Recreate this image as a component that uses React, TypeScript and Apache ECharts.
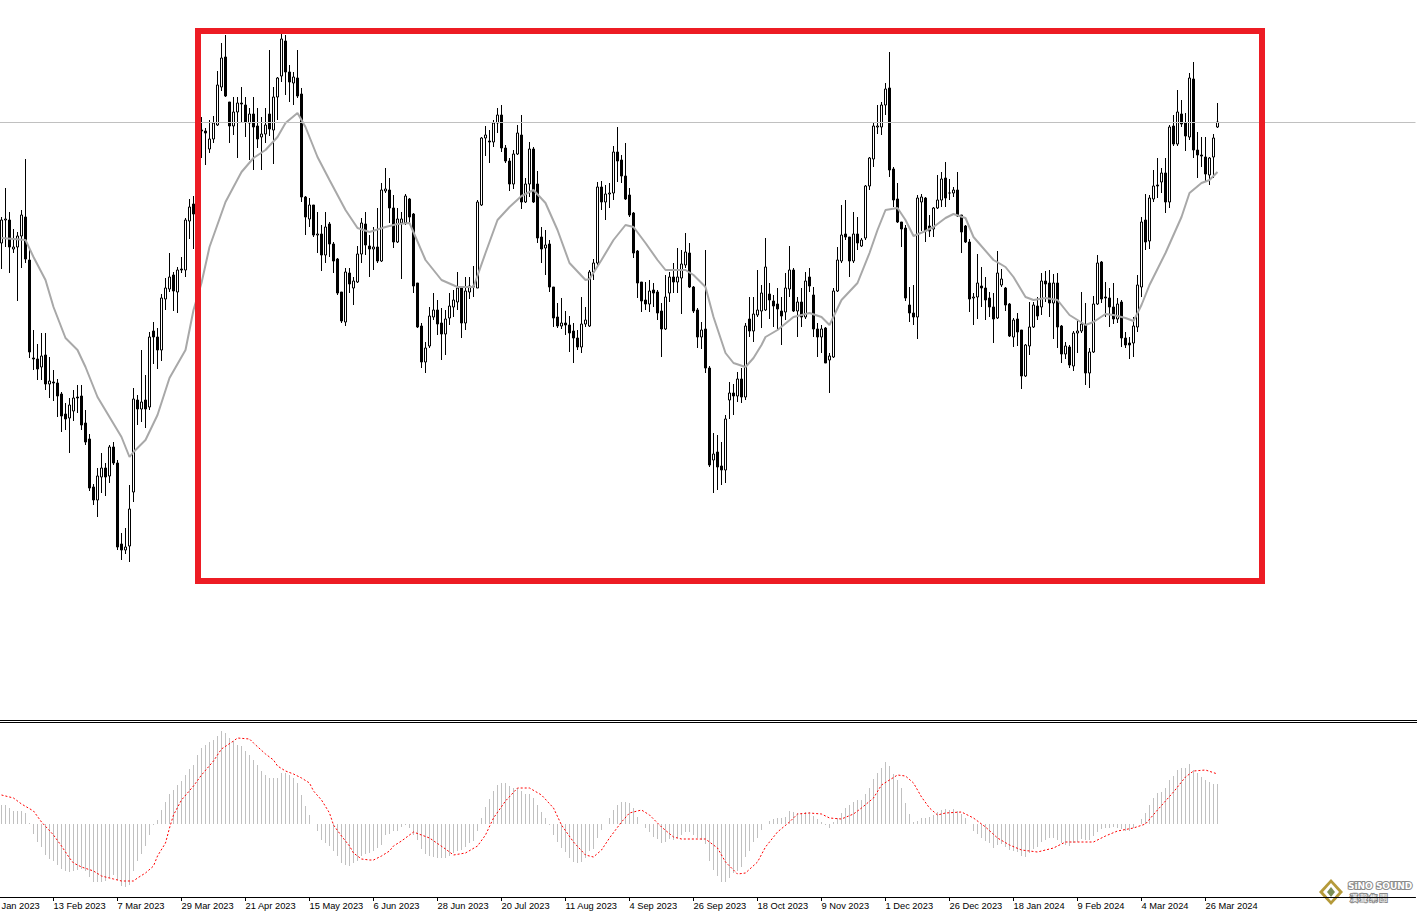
import React, { useEffect, useRef } from "react";
import * as echarts from "echarts";

// ---------- DATA (XAGUSD daily) ----------
const OPEN = [
24.57,24.80,24.80,24.51,24.53,24.64,24.83,24.40,23.42,23.41,23.33,23.45,23.16,23.18,23.17,23.06,22.86,22.82,22.89,23.03,
23.04,22.77,22.61,22.13,22.00,22.23,22.32,22.24,22.53,22.37,21.56,21.50,21.54,22.08,23.00,22.91,23.00,22.93,23.69,23.63,
23.50,24.01,24.11,24.25,24.08,24.31,24.30,24.79,24.96,24.86,25.70,25.69,25.51,25.61,25.75,26.13,26.43,25.98,25.74,25.88,
25.97,25.95,25.77,25.86,25.74,25.63,25.66,25.86,25.70,26.03,26.24,26.59,26.28,26.17,26.22,26.06,25.03,24.81,24.95,24.65,
24.66,24.45,24.76,24.56,24.41,24.08,23.78,24.27,24.12,24.18,24.46,24.76,24.54,24.51,24.53,24.39,25.09,25.10,24.92,24.58,
24.77,24.77,25.01,24.86,24.17,23.74,23.38,23.54,23.83,23.90,23.77,23.66,23.82,23.93,23.98,24.12,23.77,24.08,24.14,24.12,
24.95,25.62,25.59,25.58,25.77,25.85,25.52,25.39,25.16,25.46,25.65,24.98,25.16,25.51,25.16,24.63,24.52,24.56,24.13,23.83,
23.74,23.77,23.75,23.69,23.62,23.53,23.76,23.74,24.28,24.37,25.13,24.98,25.06,25.07,25.48,25.40,25.24,25.05,24.87,24.49,
24.18,24.00,23.96,24.10,24.08,23.89,23.71,24.07,24.23,24.18,24.22,24.35,24.47,24.13,23.90,23.63,23.71,23.32,22.40,22.48,
22.34,22.30,23.00,23.07,23.04,23.21,23.03,23.81,23.69,23.85,23.89,23.90,24.06,23.99,23.96,23.89,23.88,24.11,24.30,23.89,
23.98,23.83,24.23,24.05,23.71,23.63,23.72,23.40,23.43,24.09,24.39,24.66,24.63,24.39,24.66,24.54,24.62,25.14,25.41,25.73,
25.73,25.95,26.12,25.31,25.01,24.78,24.72,23.95,23.87,23.83,24.98,25.02,24.74,24.71,24.92,25.00,25.22,25.07,25.07,25.10,
24.85,24.74,24.58,24.02,24.03,24.14,24.12,24.02,23.93,23.82,24.15,24.12,23.96,23.63,23.81,23.70,23.24,23.54,23.73,23.94,
23.93,24.19,24.17,23.97,24.17,23.74,23.46,23.53,23.34,23.67,23.69,23.75,23.27,23.48,23.96,24.38,24.03,24.02,23.93,23.81,
23.98,23.62,23.57,23.57,23.73,24.13,24.80,24.59,25.01,25.15,25.18,25.27,24.98,25.74,25.56,25.86,25.77,25.63,26.21,25.50,
25.45,25.43,25.25,25.43,25.73];
const HIGH = [
24.83,25.12,24.88,24.71,24.68,24.90,25.41,24.53,23.70,23.56,23.67,23.67,23.43,23.30,23.21,23.08,22.97,23.02,23.10,23.15,
23.15,22.90,22.66,22.16,22.32,22.47,22.37,22.55,22.58,22.40,21.67,21.72,22.15,23.12,23.05,23.50,23.25,23.68,23.78,23.72,
24.06,24.22,24.47,24.28,24.33,24.43,24.82,25.01,25.04,25.75,25.83,25.72,25.80,25.84,26.29,26.57,26.65,25.98,26.03,26.03,
26.13,26.03,25.92,26.03,25.92,25.83,25.92,26.50,26.13,26.23,26.66,26.65,26.35,26.28,26.50,26.12,25.04,25.02,24.95,24.88,
24.75,24.88,24.78,24.58,24.42,24.08,24.32,24.32,24.23,24.54,24.82,24.88,24.65,24.73,24.92,25.17,25.32,25.22,25.05,24.92,
24.88,25.06,25.02,24.87,24.17,23.77,23.58,23.93,24.07,24.00,23.92,23.90,24.07,24.10,24.28,24.13,24.23,24.23,24.34,25.00,
25.63,25.74,25.70,25.80,25.92,25.95,25.55,25.42,25.50,25.75,25.85,25.22,25.58,25.53,25.29,24.73,24.70,24.60,24.13,23.97,
24.02,23.89,23.84,23.77,23.70,24.03,23.93,24.30,24.41,25.18,25.19,25.15,25.17,25.54,25.73,25.45,25.57,25.12,24.88,24.50,
24.18,24.18,24.20,24.17,24.10,23.97,24.25,24.28,24.37,24.52,24.50,24.67,24.57,24.14,23.92,23.78,24.50,23.34,22.67,22.65,
22.58,22.85,23.18,23.16,23.28,23.32,23.77,24.03,24.03,24.30,24.15,24.62,24.17,24.05,24.12,24.03,24.27,24.54,24.32,24.03,
24.12,24.28,24.32,24.13,23.77,23.75,23.73,23.47,24.12,24.53,24.95,25.00,24.63,24.88,24.83,24.62,25.15,25.43,25.77,25.95,
25.98,26.17,26.48,25.33,25.17,24.78,24.75,24.13,24.15,25.05,25.06,25.03,24.85,24.93,25.25,25.28,25.38,25.21,25.13,25.28,
24.85,24.75,24.61,24.07,24.46,24.33,24.23,24.08,24.07,24.49,24.31,24.13,23.97,23.82,23.87,23.70,23.56,23.98,23.98,24.03,
24.27,24.29,24.30,24.26,24.27,23.75,23.58,23.55,23.69,23.79,24.08,23.97,23.52,24.04,24.45,24.39,24.18,24.12,24.17,24.02,
24.00,23.68,23.63,23.83,24.25,24.83,25.06,25.05,25.30,25.42,25.32,25.42,25.75,25.85,26.10,26.00,25.87,26.27,26.38,25.68,
25.63,25.63,25.43,25.66,25.97];
const LOW = [
24.31,24.53,24.27,24.47,23.99,24.32,24.37,23.42,23.30,23.20,23.20,23.10,23.02,22.99,22.83,22.68,22.70,22.47,22.79,22.87,
22.70,22.55,22.09,21.95,21.83,22.07,22.04,22.17,22.35,21.50,21.40,21.46,21.38,21.98,22.75,22.78,22.72,22.90,23.36,23.31,
23.39,23.90,24.08,23.89,23.87,24.27,24.23,24.61,24.51,24.84,25.42,25.35,25.47,25.57,25.74,26.09,26.03,25.57,25.65,25.42,
25.77,25.63,25.40,25.30,25.52,25.30,25.57,25.64,25.36,25.80,26.18,26.05,25.98,25.95,26.02,24.98,24.65,24.73,24.63,24.47,
24.29,24.37,24.43,24.27,24.05,23.77,23.74,24.07,23.95,24.17,24.37,24.45,24.23,24.30,24.37,24.38,25.07,24.77,24.52,24.57,
24.21,24.75,24.77,24.07,23.72,23.32,23.27,23.52,23.80,23.65,23.40,23.45,23.75,23.83,23.90,23.62,23.70,24.01,24.03,24.12,
24.94,25.44,25.37,25.53,25.67,25.48,25.37,25.09,25.11,25.45,24.91,24.97,25.03,24.97,24.57,24.37,24.25,24.08,23.73,23.72,
23.71,23.65,23.48,23.37,23.50,23.47,23.73,23.73,24.20,24.35,24.90,24.80,24.92,25.00,25.18,25.17,25.00,24.83,24.42,24.02,
23.88,23.90,23.88,23.93,23.80,23.43,23.70,23.98,24.07,24.07,23.86,24.32,24.12,23.87,23.52,23.51,23.27,22.33,22.07,22.10,
22.15,22.17,22.81,22.85,22.98,22.97,23.00,23.63,23.58,23.83,23.72,23.89,23.81,23.73,23.71,23.55,23.80,24.03,23.88,23.63,
23.73,23.81,24.08,23.63,23.43,23.47,23.37,23.07,23.42,24.08,24.37,24.60,24.23,24.37,24.50,24.53,24.60,25.10,25.33,25.66,
25.65,25.85,25.23,24.93,24.77,24.53,23.99,23.78,23.75,23.61,24.69,24.58,24.63,24.63,24.91,24.93,24.93,25.00,25.03,24.83,
24.47,24.57,23.88,23.75,23.81,23.93,23.80,23.83,23.57,23.81,24.13,23.89,23.63,23.53,23.54,23.11,23.23,23.45,23.72,23.80,
23.85,23.98,23.83,23.61,23.52,23.37,23.41,23.32,23.29,23.47,23.67,23.15,23.12,23.47,23.95,23.97,23.83,23.73,23.76,23.77,
23.53,23.52,23.41,23.43,23.68,24.03,24.50,24.51,24.98,25.02,25.07,24.87,24.92,25.54,25.54,25.73,25.49,25.60,25.42,25.22,
25.33,25.18,25.15,25.22,25.72];
const CLOSE = [
24.80,24.81,24.53,24.53,24.64,24.85,24.41,23.48,23.41,23.31,23.44,23.16,23.19,23.17,23.04,22.84,22.81,22.95,23.02,23.02,
22.75,22.58,22.12,22.00,22.24,22.32,22.23,22.53,22.37,21.53,21.50,21.53,21.91,23.01,22.91,22.98,22.91,23.63,23.63,23.50,
24.02,24.12,24.23,24.09,24.30,24.30,24.80,24.93,24.86,25.70,25.69,25.67,25.61,25.77,26.15,26.42,26.04,25.74,25.88,25.97,
25.96,25.78,25.86,25.73,25.61,25.66,25.75,25.71,26.03,26.22,26.61,26.28,26.18,26.23,26.04,25.03,24.83,24.95,24.65,24.66,
24.45,24.73,24.56,24.39,24.07,23.79,24.28,24.16,24.19,24.46,24.77,24.55,24.51,24.53,24.39,25.10,25.11,24.92,24.58,24.81,
24.81,25.04,24.83,24.14,23.73,23.38,23.52,23.84,23.90,23.76,23.66,23.81,23.94,24.00,24.12,23.77,24.09,24.14,24.13,24.98,
25.62,25.65,25.58,25.77,25.85,25.52,25.39,25.16,25.46,25.67,24.98,25.16,25.51,24.98,24.62,24.51,24.55,24.13,23.82,23.74,
23.77,23.75,23.67,23.62,23.53,23.76,23.80,24.28,24.37,25.13,24.98,25.06,25.07,25.48,25.39,25.24,25.01,24.85,24.47,24.17,
23.99,23.96,24.09,24.07,23.87,23.71,24.03,24.23,24.18,24.23,24.36,24.48,24.13,23.89,23.63,23.70,23.32,22.35,22.46,22.33,
22.30,22.81,23.07,23.04,23.21,23.03,23.74,23.69,23.86,23.90,24.07,24.33,24.00,23.94,23.91,23.84,24.12,24.30,23.89,23.98,
23.83,24.19,24.14,23.71,23.63,23.71,23.37,23.44,24.09,24.40,24.65,24.63,24.39,24.66,24.57,24.60,25.14,25.42,25.74,25.74,
25.95,26.11,25.30,25.00,24.78,24.71,24.02,23.87,23.83,25.02,25.03,24.69,24.69,24.92,25.00,25.21,25.02,25.07,25.10,24.84,
24.68,24.58,24.01,24.03,24.17,24.12,24.00,23.93,23.81,24.27,24.21,23.95,23.64,23.80,23.68,23.24,23.55,23.73,23.95,23.84,
24.19,24.16,23.97,24.17,23.73,23.46,23.54,23.35,23.67,23.69,23.76,23.27,23.48,23.96,24.37,24.01,24.02,23.93,23.81,23.96,
23.62,23.55,23.55,23.74,24.15,24.78,24.58,25.02,25.14,25.14,25.27,24.98,25.73,25.56,25.88,25.76,25.64,26.22,25.50,25.45,
25.44,25.26,25.42,25.62,25.78];

// moving average, sampled along the grey curve: [bar, value]
const MA_POINTS = [
[0,24.62],[6,24.60],[8,24.43],[11,24.20],[13,23.93],[16,23.62],[19,23.50],[21,23.33],[24,23.03],[27,22.83],
[30,22.63],[32,22.43],[33,22.48],[36,22.60],[39,22.85],[42,23.22],[46,23.50],[48,23.90],[50,24.17],[52,24.53],
[56,24.98],[60,25.28],[63,25.42],[66,25.50],[69,25.63],[71,25.77],[74,25.87],[76,25.73],[79,25.43],[82,25.20],
[86,24.90],[89,24.72],[92,24.68],[96,24.73],[99,24.76],[102,24.77],[106,24.40],[110,24.20],[114,24.13],[118,24.13],
[121,24.47],[124,24.80],[127,24.93],[130,25.04],[133,25.10],[136,24.97],[139,24.70],[142,24.37],[146,24.20],[147,24.21],
[150,24.40],[153,24.60],[156,24.75],[158,24.73],[161,24.57],[164,24.40],[166,24.30],[171,24.30],[173,24.25],[176,24.13],
[178,23.83],[181,23.47],[183,23.37],[186,23.33],[188,23.42],[190,23.55],[191,23.63],[194,23.70],[198,23.83],[202,23.87],
[205,23.83],[207,23.75],[210,24.00],[214,24.17],[217,24.47],[219,24.70],[221,24.90],[224,24.92],[226,24.80],[228,24.64],
[231,24.69],[233,24.73],[236,24.82],[238,24.86],[241,24.82],[243,24.63],[248,24.40],[251,24.33],[253,24.23],[256,24.03],
[258,24.00],[261,24.02],[264,24.00],[267,23.85],[271,23.75],[273,23.78],[276,23.86],[278,23.85],[281,23.82],[283,23.79],
[285,23.95],[287,24.15],[291,24.47],[295,24.83],[297,25.07],[300,25.17],[302,25.20],[304,25.28]];

const MACD_HIST = [
0.19,0.19,0.16,0.13,0.13,0.13,0.11,0.01,-0.10,-0.18,-0.23,-0.31,-0.35,-0.37,-0.41,-0.45,-0.47,-0.48,-0.47,-0.46,
-0.45,-0.47,-0.53,-0.58,-0.58,-0.58,-0.57,-0.54,-0.51,-0.56,-0.62,-0.63,-0.61,-0.47,-0.37,-0.30,-0.22,-0.11,-0.01,0.04,
0.14,0.22,0.30,0.34,0.39,0.43,0.49,0.55,0.59,0.69,0.76,0.79,0.82,0.84,0.88,0.93,0.91,0.86,0.83,0.79,
0.78,0.73,0.69,0.64,0.59,0.53,0.49,0.46,0.46,0.46,0.51,0.51,0.49,0.46,0.41,0.29,0.18,0.09,0.00,-0.07,
-0.16,-0.19,-0.22,-0.27,-0.32,-0.39,-0.41,-0.42,-0.39,-0.37,-0.32,-0.30,-0.29,-0.27,-0.24,-0.21,-0.11,-0.10,-0.07,-0.07,
-0.03,-0.01,-0.04,-0.11,-0.16,-0.25,-0.30,-0.32,-0.33,-0.34,-0.34,-0.34,-0.32,-0.29,-0.27,-0.26,-0.23,-0.19,-0.17,-0.07,
0.06,0.17,0.25,0.33,0.39,0.41,0.41,0.38,0.36,0.36,0.33,0.30,0.30,0.26,0.19,0.12,0.06,-0.01,-0.11,-0.18,
-0.24,-0.28,-0.34,-0.38,-0.39,-0.38,-0.34,-0.27,-0.25,-0.14,-0.06,0.00,0.06,0.14,0.19,0.22,0.22,0.21,0.16,0.07,
0.00,-0.04,-0.08,-0.13,-0.15,-0.19,-0.18,-0.15,-0.16,-0.14,-0.11,-0.08,-0.08,-0.11,-0.14,-0.16,-0.20,-0.37,-0.46,-0.52,
-0.58,-0.58,-0.54,-0.49,-0.47,-0.43,-0.33,-0.27,-0.18,-0.14,-0.06,0.00,0.03,0.05,0.06,0.06,0.07,0.13,0.12,0.11,
0.11,0.12,0.12,0.08,0.05,0.02,-0.01,-0.04,0.02,0.06,0.11,0.16,0.19,0.22,0.24,0.24,0.30,0.36,0.45,0.51,
0.56,0.62,0.58,0.50,0.44,0.36,0.21,0.10,0.02,0.03,0.06,0.06,0.07,0.09,0.12,0.14,0.15,0.14,0.15,0.13,
0.10,0.06,0.00,-0.07,-0.10,-0.14,-0.17,-0.19,-0.24,-0.21,-0.20,-0.23,-0.26,-0.27,-0.28,-0.32,-0.33,-0.29,-0.25,-0.23,
-0.18,-0.16,-0.14,-0.14,-0.16,-0.19,-0.21,-0.22,-0.19,-0.18,-0.15,-0.16,-0.16,-0.12,-0.08,-0.05,-0.04,-0.04,-0.03,-0.04,
-0.05,-0.07,-0.07,-0.04,0.00,0.05,0.11,0.19,0.26,0.31,0.32,0.36,0.44,0.48,0.54,0.56,0.56,0.60,0.54,0.51,
0.47,0.44,0.42,0.40,0.40];

// signal line, sampled along the red dotted curve: [bar, value]
const MACD_SIGNAL = [
[0,0.29],[3,0.26],[5,0.20],[8,0.13],[10,0.02],[13,-0.11],[15,-0.22],[17,-0.34],[18,-0.39],[20,-0.43],
[23,-0.47],[25,-0.52],[28,-0.55],[30,-0.57],[33,-0.57],[34,-0.54],[36,-0.49],[38,-0.42],[39,-0.32],[41,-0.19],
[42,-0.04],[43,0.09],[45,0.24],[48,0.38],[50,0.49],[53,0.63],[55,0.75],[58,0.83],[59,0.86],[62,0.85],
[63,0.81],[66,0.70],[68,0.64],[69,0.58],[71,0.53],[73,0.50],[75,0.46],[77,0.41],[78,0.33],[80,0.24],
[82,0.11],[83,-0.01],[85,-0.12],[87,-0.22],[88,-0.29],[90,-0.35],[92,-0.36],[93,-0.36],[95,-0.32],[97,-0.27],
[98,-0.22],[100,-0.17],[103,-0.08],[107,-0.14],[111,-0.25],[113,-0.31],[116,-0.29],[119,-0.22],[121,-0.11],[123,0.06],
[126,0.23],[129,0.36],[132,0.36],[135,0.29],[138,0.16],[140,-0.01],[143,-0.18],[146,-0.31],[148,-0.33],[150,-0.26],
[152,-0.14],[155,0.02],[157,0.11],[160,0.14],[162,0.09],[165,-0.03],[168,-0.13],[170,-0.15],[176,-0.15],[179,-0.24],
[181,-0.38],[184,-0.50],[186,-0.49],[189,-0.38],[191,-0.23],[194,-0.08],[197,0.02],[199,0.10],[202,0.11],[205,0.10],
[207,0.06],[210,0.05],[213,0.10],[215,0.16],[218,0.26],[220,0.39],[224,0.49],[226,0.48],[228,0.41],[230,0.27],
[232,0.16],[234,0.09],[236,0.11],[240,0.12],[243,0.06],[246,-0.03],[249,-0.14],[252,-0.21],[255,-0.26],[259,-0.28],
[263,-0.24],[266,-0.18],[269,-0.18],[273,-0.18],[276,-0.12],[279,-0.07],[283,-0.04],[286,0.00],[289,0.14],[293,0.32],
[296,0.47],[298,0.53],[301,0.54],[304,0.50]];

const TICK_LABELS = [
"20 Jan 2023","13 Feb 2023","7 Mar 2023","29 Mar 2023","21 Apr 2023","15 May 2023","6 Jun 2023",
"28 Jun 2023","20 Jul 2023","11 Aug 2023","4 Sep 2023","26 Sep 2023","18 Oct 2023","9 Nov 2023",
"1 Dec 2023","26 Dec 2023","18 Jan 2024","9 Feb 2024","4 Mar 2024","26 Mar 2024"];

const FIRST_SLOT_DATE = "2023-01-19"; // first (empty) slot at the left edge
const LEAD_SLOTS = 4;                 // empty slots before the first visible candle
const TOTAL_SLOTS = 358;              // visible bar slots including the empty right margin
const NO_TRADING_DAYS = ["2023-04-07", "2023-12-25", "2024-01-01", "2024-03-29"];
const LAST_PRICE = 25.78;
const PRICE_MIN = 19.8, PRICE_MAX = 27.0;
const MACD_MIN = -0.73, MACD_MAX = 1.01;

const MONTHS = ["Jan","Feb","Mar","Apr","May","Jun","Jul","Aug","Sep","Oct","Nov","Dec"];

function buildSlots(): string[] {
  const out: string[] = [];
  const d = new Date(FIRST_SLOT_DATE + "T00:00:00Z");
  while (out.length < TOTAL_SLOTS) {
    const dow = d.getUTCDay();
    const iso = d.toISOString().slice(0, 10);
    if (dow !== 0 && dow !== 6 && NO_TRADING_DAYS.indexOf(iso) < 0) {
      out.push(`${d.getUTCDate()} ${MONTHS[d.getUTCMonth()]} ${d.getUTCFullYear()}`);
    }
    d.setUTCDate(d.getUTCDate() + 1);
  }
  return out;
}

const OFFSET_X = -17; // chart canvas starts left of the window (the first date slots lie off-screen)

export default function App() {
  const ref = useRef<HTMLDivElement>(null);
  useEffect(() => {
    if (!ref.current) return;
    const chart = echarts.init(ref.current, undefined, { renderer: "svg" });
    const slots = buildSlots();
    const tickSet = new Set(TICK_LABELS);
    const firstLabel = TICK_LABELS[0];
    const showLabel = (_i: number, v: string) => tickSet.has(v);
    const showTick = (_i: number, v: string) => tickSet.has(v) && v !== firstLabel;
    const pad = (n: number) => new Array(n).fill("-");

    const candles = OPEN.map((o, i) => [o, CLOSE[i], LOW[i], HIGH[i]]);
    const ma = MA_POINTS.map(([k, v]) => [k + LEAD_SLOTS, v]);
    const sig = MACD_SIGNAL.map(([k, v]) => [k + LEAD_SLOTS, v]);
    const ox = -OFFSET_X;

    chart.setOption({
      animation: false,
      backgroundColor: "#ffffff",
      grid: [
        { left: 0.5, right: 1.5, top: 0, height: 720 },
        { left: 0.5, right: 1.5, top: 723, height: 174 },
      ],
      xAxis: [
        {
          type: "category", gridIndex: 0, data: slots, boundaryGap: true,
          axisLine: { show: false }, axisTick: { show: false }, axisLabel: { show: false }, splitLine: { show: false },
        },
        {
          type: "category", gridIndex: 1, data: slots, boundaryGap: true, position: "bottom",
          axisLine: { show: true, onZero: false, lineStyle: { color: "#000000", width: 1 } },
          axisTick: { show: true, alignWithLabel: true, interval: showTick, length: 4, lineStyle: { color: "#000000" } },
          axisLabel: {
            show: true, interval: showLabel, align: "left", margin: 4,
            fontSize: 9.3, fontFamily: "Liberation Sans, Arial, sans-serif", color: "#000000",
            // the leftmost date sits partly outside the window: only its visible part is drawn, at the edge
            formatter: (v: string) => (v === firstLabel ? "{edge|" + v.split(" ").slice(1).join(" ") + "}" : v),
            rich: { edge: { fontSize: 9.3, fontFamily: "Liberation Sans, Arial, sans-serif", color: "#000000", padding: [0, 0, 0, 12] } },
          },
          splitLine: { show: false },
        },
      ],
      yAxis: [
        { type: "value", gridIndex: 0, min: PRICE_MIN, max: PRICE_MAX, show: false, splitLine: { show: false } },
        { type: "value", gridIndex: 1, min: MACD_MIN, max: MACD_MAX, show: false, splitLine: { show: false } },
      ],
      series: [
        {
          name: "XAGUSD", type: "candlestick", xAxisIndex: 0, yAxisIndex: 0,
          data: [...pad(LEAD_SLOTS), ...candles],
          barWidth: 2,
          itemStyle: { color: "#ffffff", color0: "#000000", borderColor: "#000000", borderColor0: "#000000", borderWidth: 1 },
          markLine: {
            silent: true, symbol: ["none", "none"], label: { show: false },
            lineStyle: { color: "#c0c0c0", width: 1, type: "solid" },
            data: [{ yAxis: LAST_PRICE }],
          },
        },
        {
          name: "MA", type: "line", xAxisIndex: 0, yAxisIndex: 0, data: ma,
          symbol: "none", lineStyle: { color: "#a8a8a8", width: 2 }, z: 3,
        },
        {
          name: "MACD", type: "bar", xAxisIndex: 1, yAxisIndex: 1,
          data: [...pad(LEAD_SLOTS), ...MACD_HIST], barWidth: 1,
          itemStyle: { color: "#c0c0c0" },
        },
        {
          name: "Signal", type: "line", xAxisIndex: 1, yAxisIndex: 1, data: sig,
          symbol: "none", lineStyle: { color: "#ff0000", width: 1, type: [2, 2] }, z: 4,
        },
      ],
      graphic: [
        { type: "line", shape: { x1: 0, y1: 720.5, x2: 1434, y2: 720.5 }, style: { stroke: "#000000", lineWidth: 1 }, silent: true },
        { type: "line", shape: { x1: 0, y1: 722.5, x2: 1434, y2: 722.5 }, style: { stroke: "#000000", lineWidth: 1 }, silent: true },
        {
          type: "rect", z: 100, silent: true,
          shape: { x: 198 + ox, y: 31, width: 1064, height: 550 },
          style: { fill: "none", stroke: "#ed1c24", lineWidth: 6 },
        },
        {
          type: "group", silent: true, z: 100,
          children: [
            { type: "polygon", shape: { points: [[1331 + ox, 879], [1343 + ox, 892], [1331 + ox, 905], [1319 + ox, 892]] }, style: { fill: "#b59a3a" } },
            { type: "polygon", shape: { points: [[1331 + ox, 883], [1339 + ox, 892], [1331 + ox, 901], [1323 + ox, 892]] }, style: { fill: "#ffffff" } },
            { type: "polygon", shape: { points: [[1331 + ox, 887], [1335 + ox, 892], [1331 + ox, 897], [1327 + ox, 892]] }, style: { fill: "#7c8f55" } },
            {
              type: "text", x: 1348 + ox, y: 881,
              style: { text: "SiNO SOUND", fontSize: 9, fontWeight: "bold", fontFamily: "DejaVu Sans, sans-serif", fill: "#ffffff", stroke: "#8a8a8a", lineWidth: 2 },
            },
            {
              type: "text", x: 1350 + ox, y: 893,
              style: { text: "漢 聲 集 團", fontSize: 8, fontFamily: "Noto Sans CJK TC, sans-serif", fill: "#ffffff", stroke: "#8a8a8a", lineWidth: 2 },
            },
          ],
        },
      ],
    });
    return () => chart.dispose();
  }, []);

  return (
    <div
      ref={ref}
      style={{ position: "fixed", left: OFFSET_X, top: 0, width: 1434, height: 914, background: "#ffffff" }}
    />
  );
}
